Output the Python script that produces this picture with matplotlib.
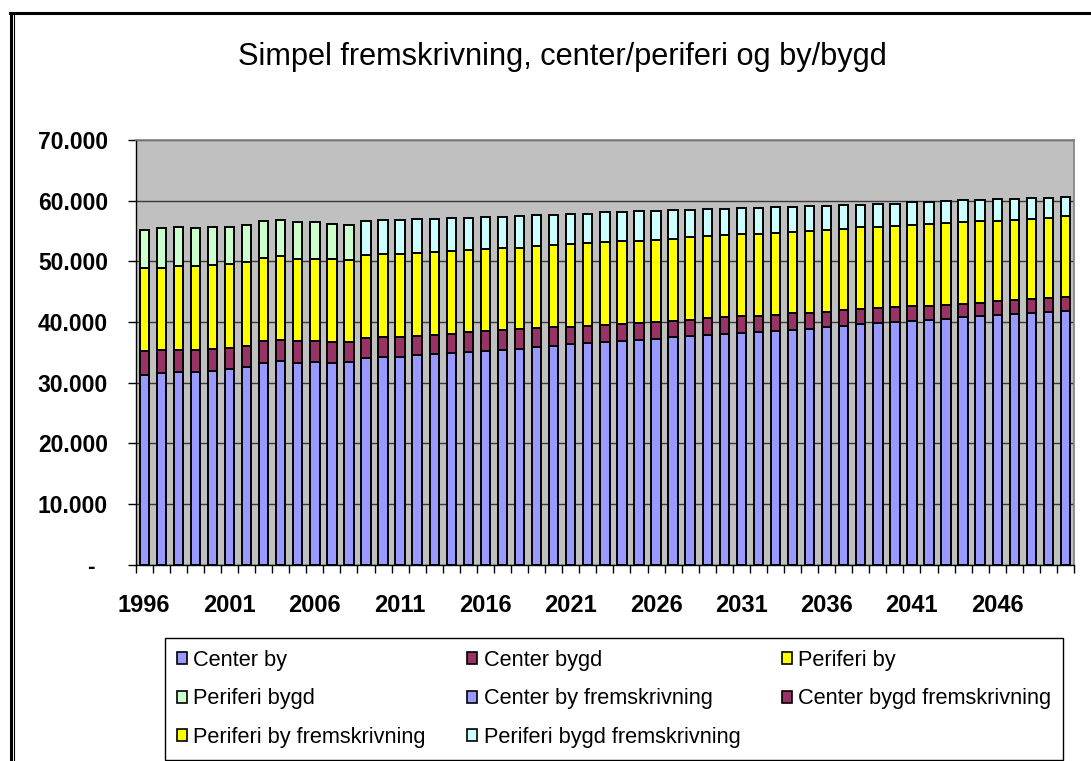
import matplotlib
matplotlib.use("Agg")
import matplotlib.pyplot as plt
from matplotlib.patches import Patch
from matplotlib.lines import Line2D
import numpy as np

plt.rcParams['font.family'] = ['Liberation Sans', 'DejaVu Sans']

# ---------------- data ----------------
title = "Simpel fremskrivning, center/periferi og by/bygd"
years = list(range(1996, 2051))
hist_years = list(range(1996, 2009))
proj_years = list(range(2009, 2051))

center_by = [31250, 31520, 31800, 31800, 31960, 32180, 32510, 33280, 33610, 33280, 33450, 33280, 33450]
center_bygd = [3960, 3850, 3570, 3570, 3630, 3520, 3570, 3570, 3350, 3570, 3410, 3410, 3240]
periferi_by = [13740, 13580, 13850, 13850, 13800, 13850, 13800, 13740, 13850, 13580, 13580, 13740, 13520]
periferi_bygd = [6210, 6540, 6430, 6270, 6270, 6100, 6160, 6050, 5990, 5990, 5990, 5770, 5830]

center_by_frem = [34050, 34160, 34270, 34490, 34660, 34880, 35040, 35260, 35430, 35590, 35810, 35980,
                  36310, 36470, 36690, 36860, 37020, 37190, 37460, 37680, 37790, 38010,
                  38170, 38390, 38560, 38720, 38890, 39110, 39380, 39600, 39820, 40040,
                  40210, 40370, 40540, 40760, 40920, 41140, 41310, 41470, 41690, 41860]
center_bygd_frem = [3300, 3410, 3300, 3240, 3240, 3190, 3240, 3190, 3190, 3190, 3190, 3190,
                    2860, 2860, 2800, 2860, 2860, 2860, 2750, 2690, 2800, 2750,
                    2750, 2530, 2580, 2690, 2640, 2580, 2530, 2470, 2420, 2420,
                    2420, 2260, 2310, 2250, 2250, 2250, 2250, 2250, 2250, 2250]
periferi_by_frem = [13630, 13630, 13580, 13630, 13630, 13630, 13630, 13630, 13630, 13470, 13470, 13470,
                    13690, 13690, 13690, 13630, 13470, 13520, 13520, 13580, 13520, 13520,
                    13520, 13520, 13520, 13410, 13470, 13520, 13470, 13520, 13360, 13300,
                    13360, 13520, 13470, 13470, 13520, 13300, 13300, 13300, 13250, 13300]
periferi_bygd_frem = [5660, 5610, 5610, 5610, 5440, 5440, 5220, 5220, 5060, 5280, 5220, 5060,
                      5000, 4840, 4890, 4730, 4950, 4730, 4730, 4510, 4510, 4340,
                      4340, 4340, 4290, 4120, 4180, 3960, 3960, 3740, 3900, 3740,
                      3790, 3630, 3570, 3570, 3350, 3520, 3350, 3410, 3240, 3190]

series_labels = ["Center by", "Center bygd", "Periferi by", "Periferi bygd",
                 "Center by fremskrivning", "Center bygd fremskrivning",
                 "Periferi by fremskrivning", "Periferi bygd fremskrivning"]
x_tick_years = [1996, 2001, 2006, 2011, 2016, 2021, 2026, 2031, 2036, 2041, 2046]
y_ticks = [0, 10000, 20000, 30000, 40000, 50000, 60000, 70000]
y_tick_labels = ["-  ", "10.000", "20.000", "30.000", "40.000", "50.000", "60.000", "70.000"]

# ---------------- style ----------------
c_blue = "#9999FF"
c_maroon = "#993366"
c_yellow = "#FFFF00"
c_green = "#CCFFCC"
c_cyan = "#CCFFFF"
hist_colors = [c_blue, c_maroon, c_yellow, c_green]
proj_colors = [c_blue, c_maroon, c_yellow, c_cyan]

W, H = 1091, 761
fig = plt.figure(figsize=(W / 100, H / 100), dpi=100)
fig.patch.set_facecolor("white")

ax_l, ax_r, ax_t, ax_b = 135.7, 1074.0, 140.0, 564.5
ax = fig.add_axes([ax_l / W, 1 - ax_b / H, (ax_r - ax_l) / W, (ax_b - ax_t) / H])
ax.set_facecolor("#C0C0C0")

bar_w = 0.55
lw_bar = 1.4

def draw_stack(xyears, stacks, colors):
    xpos = np.array([years.index(y) for y in xyears], dtype=float)
    bottom = np.zeros(len(xyears))
    for vals, col in zip(stacks, colors):
        v = np.array(vals, dtype=float)
        ax.bar(xpos, v, bottom=bottom, width=bar_w, color=col,
               edgecolor="black", linewidth=lw_bar, zorder=3)
        bottom += v

draw_stack(hist_years, [center_by, center_bygd, periferi_by, periferi_bygd], hist_colors)
draw_stack(proj_years, [center_by_frem, center_bygd_frem, periferi_by_frem, periferi_bygd_frem], proj_colors)

ax.set_xlim(-0.5, len(years) - 0.5)
ax.set_ylim(0, 70000)

ax.set_yticks(y_ticks)
ax.set_yticklabels(y_tick_labels)
ax.yaxis.grid(True, color="#3a3a3a", linewidth=1.0, zorder=1)
ax.set_axisbelow(True)

ax.set_xticks([years.index(y) for y in x_tick_years])
ax.set_xticklabels([str(y) for y in x_tick_years])
ax.set_xticks(np.arange(-0.5, len(years) + 0.5, 1.0), minor=True)

for lab in ax.get_xticklabels():
    lab.set_fontsize(17)
    lab.set_fontweight("bold")
for lab in ax.get_yticklabels():
    lab.set_fontsize(16.5)
    lab.set_fontweight("bold")

ax.tick_params(axis="x", which="major", length=0, pad=21)
ax.tick_params(axis="x", which="minor", length=6, width=1, direction="out", color="black")
ax.tick_params(axis="y", which="major", length=6, width=1, direction="out", color="black", pad=14)

for s in ["left", "bottom"]:
    ax.spines[s].set_color("black")
    ax.spines[s].set_linewidth(1.0)
for s in ["top", "right"]:
    ax.spines[s].set_color("#808080")
    ax.spines[s].set_linewidth(1.2)

# ---------------- title (fit to width) ----------------
t = fig.text(562 / W, 1 - 64.5 / H, title, ha="center", va="baseline", fontsize=18)
fig.canvas.draw()
r = fig.canvas.get_renderer()
wpx = t.get_window_extent(r).width
t.set_fontsize(18 * 650.0 / wpx)

# ---------------- legend ----------------
handles = [Patch(facecolor=c, edgecolor="black", linewidth=1.2)
           for c in hist_colors + proj_colors]
order = [0, 3, 6, 1, 4, 7, 2, 5]
leg = fig.legend([handles[i] for i in order], [series_labels[i] for i in order],
                 ncol=3, loc="upper left",
                 bbox_to_anchor=(165 / W, 1 - 638 / H), bbox_transform=fig.transFigure,
                 frameon=True, fancybox=False, edgecolor="black", framealpha=1.0,
                 fontsize=15.7, handlelength=0.45, handleheight=0.45, handletextpad=0.3,
                 columnspacing=1.9, labelspacing=0.8, borderpad=0.55, borderaxespad=0)
leg.get_frame().set_linewidth(1.0)

# ---------------- outer chart frame ----------------
fig.add_artist(Line2D([10 / W, 1.0], [1 - 13 / H, 1 - 13 / H], color="black", linewidth=2.2,
                      transform=fig.transFigure))
fig.add_artist(Line2D([11 / W, 11 / W], [0, 1 - 13 / H], color="black", linewidth=2.2,
                      transform=fig.transFigure))
fig.add_artist(Line2D([14 / W, 14 / W], [0, 1 - 14 / H], color="black", linewidth=0.8,
                      transform=fig.transFigure))

fig.savefig("out.png", dpi=100, facecolor="white")
